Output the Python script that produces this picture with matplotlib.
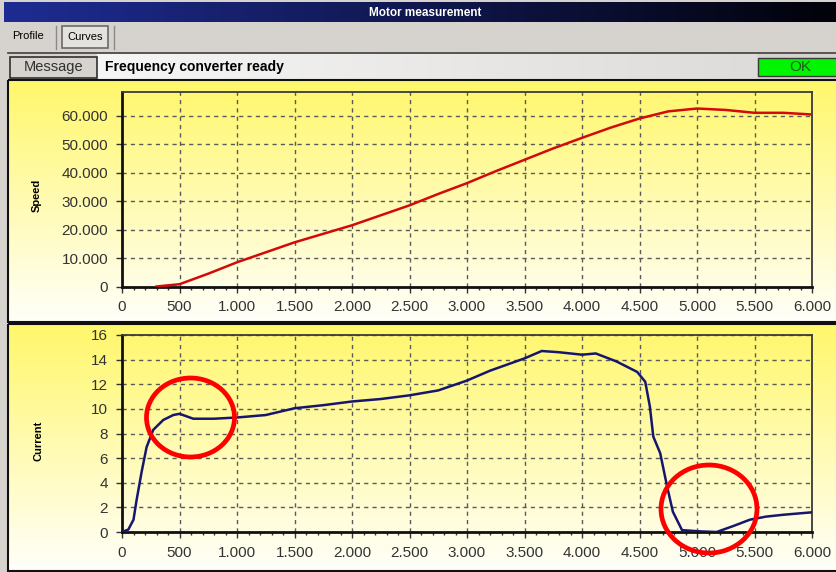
import numpy as np
import matplotlib.pyplot as plt
from matplotlib.patches import Rectangle, Ellipse
from matplotlib.colors import LinearSegmentedColormap

plt.rcParams['font.family'] = ['Liberation Sans', 'DejaVu Sans']

W, H = 836, 572

# Speed trace (time in ms)
speed_time = [300, 500, 750, 1000, 1250, 1500, 1750, 2000, 2250, 2500, 2750,
              3000, 3250, 3500, 3750, 4000, 4250, 4500, 4750, 5000, 5250,
              5500, 5750, 6000]
speed = [0.0, 0.8, 4.5, 8.5, 12.0, 15.5, 18.5, 21.5, 25.0, 28.5, 32.5,
         36.3, 40.5, 44.5, 48.5, 52.2, 55.8, 59.0, 61.5, 62.5, 62.0,
         61.0, 61.0, 60.4]

# Current trace
current_time = [0, 55, 100, 127, 171, 214, 272, 359, 446, 500, 620, 800,
                1000, 1250, 1500, 1750, 2000, 2250, 2500, 2750, 3000, 3200,
                3500, 3650, 3800, 4000, 4120, 4300, 4480, 4550, 4590, 4620,
                4680, 4740, 4790, 4870, 5030, 5170, 5320, 5460, 5600, 5750,
                6000]
current = [0.0, 0.2, 1.0, 2.6, 4.9, 6.9, 8.3, 9.1, 9.5, 9.6, 9.2, 9.2,
           9.3, 9.5, 10.05, 10.3, 10.6, 10.8, 11.1, 11.5, 12.3, 13.1,
           14.1, 14.7, 14.6, 14.4, 14.5, 13.85, 13.0, 12.2, 10.2, 7.75,
           6.4, 3.7, 1.65, 0.15, 0.05, 0.0, 0.5, 1.0, 1.25, 1.4,
           1.6]

x_ticks = [0, 500, 1000, 1500, 2000, 2500, 3000, 3500, 4000, 4500, 5000, 5500, 6000]
x_tick_labels = ['0', '500', '1.000', '1.500', '2.000', '2.500', '3.000',
                 '3.500', '4.000', '4.500', '5.000', '5.500', '6.000']
speed_ticks = [0, 10, 20, 30, 40, 50, 60]
speed_tick_labels = ['0', '10.000', '20.000', '30.000', '40.000', '50.000', '60.000']
current_ticks = [0, 2, 4, 6, 8, 10, 12, 14, 16]

fig = plt.figure(figsize=(W / 100, H / 100), dpi=100)
fig.patch.set_facecolor('#d6d3ce')

# window chrome drawn in pixel coordinates
bg = fig.add_axes([0, 0, 1, 1])
bg.set_axis_off()


def rect(x, y, w, h, **kw):
    bg.add_patch(Rectangle((x, y), w, h, **kw))


def vgrad(x0, x1, y0, y1, c0, c1):
    cmap = LinearSegmentedColormap.from_list('g', [c0, c1])
    g = np.linspace(0, 1, 256).reshape(-1, 1)
    bg.imshow(g, cmap=cmap, extent=(x0, x1, y1, y0), aspect='auto',
              interpolation='bilinear', zorder=1)


def hgrad(x0, x1, y0, y1, c0, c1):
    cmap = LinearSegmentedColormap.from_list('g', [c0, c1])
    g = np.linspace(0, 1, 256).reshape(1, -1)
    bg.imshow(g, cmap=cmap, extent=(x0, x1, y1, y0), aspect='auto',
              interpolation='bilinear', zorder=1)


# title bar
hgrad(4, W, 3, 22.5, '#1e2c92', '#02020a')
bg.text(425, 13, 'Motor measurement', color='white', fontsize=8.5,
        fontweight='bold', ha='center', va='center', zorder=3)

# tab row
rect(0, 23, W, 30, facecolor='#d6d3ce', edgecolor='none', zorder=1)
bg.text(12, 36, 'Profile', fontsize=8, ha='left', va='center', zorder=3)
bg.plot([55.5, 55.5], [26, 49], color='#8a8a8a', lw=1, zorder=3)
bg.plot([114, 114], [26, 49], color='#8a8a8a', lw=1, zorder=3)
rect(62, 26, 46, 21.5, facecolor='#e4e2de', edgecolor='#6a6a6a', lw=1.2, zorder=2)
bg.text(85, 37, 'Curves', fontsize=8, ha='center', va='center', zorder=3)

# message row
bg.plot([8, W], [53, 53], color='#404040', lw=1.2, zorder=3)
hgrad(97, 757, 54, 79, '#f6f6f6', '#dedcda')
rect(10, 57, 87, 21, facecolor='#d6d3ce', edgecolor='#303030', lw=1.2, zorder=2)
bg.text(53.5, 67.5, 'Message', fontsize=10.5, color='#303030',
        ha='center', va='center', zorder=3)
bg.text(105, 67.5, 'Frequency converter ready', fontsize=10, fontweight='bold',
        ha='left', va='center', zorder=3)
rect(758, 58, 80, 18, facecolor='#00f500', edgecolor='#3a3a3a', lw=1, zorder=2)
bg.text(800, 67, 'OK', fontsize=11, color='#1e5a1e', ha='center', va='center', zorder=3)

# plot panels with yellow fade
vgrad(8, W, 80, 322, '#fff76a', '#fffffa')
vgrad(8, W, 324, 571, '#fff76a', '#fffffa')
rect(8, 80, W, 242, facecolor='none', edgecolor='#101010', lw=1.5, zorder=2)
rect(8, 323.5, W, 247.5, facecolor='none', edgecolor='#101010', lw=1.5, zorder=2)

bg.set_xlim(0, W)
bg.set_ylim(H, 0)

bg.text(37, 195, 'Speed', fontsize=8, fontweight='bold', rotation=90,
        ha='center', va='center', zorder=3)
bg.text(38, 441, 'Current', fontsize=8, fontweight='bold', rotation=90,
        ha='center', va='center', zorder=3)


def style_axes(ax):
    ax.patch.set_alpha(0)
    for side in ['left', 'bottom']:
        ax.spines[side].set_linewidth(2)
        ax.spines[side].set_color('#111111')
    for side in ['top', 'right']:
        ax.spines[side].set_linewidth(1.3)
        ax.spines[side].set_color('#3a3a3a')
    ax.grid(True, color='#5a5a5a', linestyle=(0, (3, 3)), linewidth=1)
    ax.set_axisbelow(True)
    ax.set_xlim(0, 6000)
    ax.set_xticks(x_ticks)
    ax.set_xticklabels(x_tick_labels)
    ax.set_xticks(np.arange(0, 6001, 100), minor=True)
    ax.tick_params(axis='both', which='major', labelsize=11, labelcolor='#333333',
                   color='#333333', length=4, width=1, pad=6)
    ax.tick_params(axis='x', which='minor', length=2.5, width=1, color='#333333')


ax1 = fig.add_axes([122 / W, 1 - 286.5 / H, 690 / W, 194.2 / H])
style_axes(ax1)
ax1.plot(speed_time, speed, color='#d20a0a', lw=1.8, zorder=3)
ax1.set_ylim(0, 68.2)
ax1.set_yticks(speed_ticks)
ax1.set_yticklabels(speed_tick_labels)

ax2 = fig.add_axes([122 / W, 1 - 532 / H, 690 / W, 197 / H])
style_axes(ax2)
ax2.plot(current_time, current, color='#16166e', lw=1.8, zorder=3)
ax2.set_ylim(0, 16)
ax2.set_yticks(current_ticks)

# red circles on top
ov = fig.add_axes([0, 0, 1, 1])
ov.set_axis_off()
ov.patch.set_alpha(0)
ov.set_xlim(0, W)
ov.set_ylim(H, 0)
ov.add_patch(Ellipse((190.5, 417.5), 88, 79, facecolor='none',
                     edgecolor='#ff0000', lw=3.4))
ov.add_patch(Ellipse((709, 509), 96, 88, facecolor='none',
                     edgecolor='#ff0000', lw=3.4))

fig.savefig('out.png', dpi=100)
